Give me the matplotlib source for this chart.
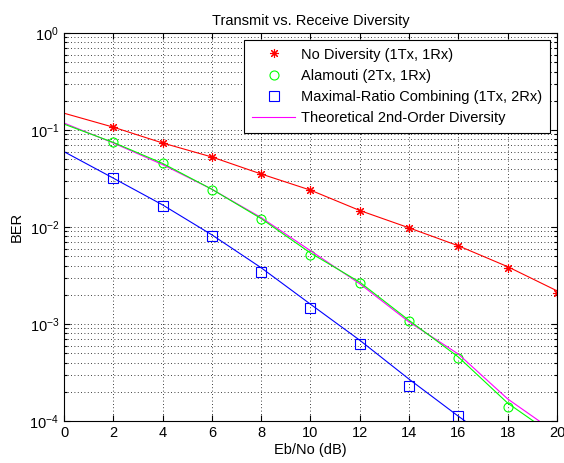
import numpy as np
import matplotlib
matplotlib.use('Agg')
import matplotlib.pyplot as plt
from matplotlib.ticker import LogLocator, FixedLocator, NullFormatter

# data
ebno_mk = [2, 4, 6, 8, 10, 12, 14, 16, 18, 20]
ber_nodiv = [0.107, 0.0735, 0.0527, 0.0352, 0.0240, 0.0147, 0.0098, 0.0064, 0.0038, 0.0021]

ebno_ala = [2, 4, 6, 8, 10, 12, 14, 16, 18]
ber_ala = [0.0752, 0.0457, 0.0240, 0.0121, 0.00514, 0.00265, 0.00107, 0.00045, 0.000139]

ebno_mrc = [2, 4, 6, 8, 10, 12, 14, 16]
ber_mrc = [0.0320, 0.0166, 0.0080, 0.0034, 0.00146, 0.00062, 0.00023, 0.000113]

# fitted curves
fit_x = [0, 2, 4, 6, 8, 10, 12, 14, 16, 18, 20]
fit_nodiv = [0.149, 0.107, 0.0735, 0.0527, 0.0352, 0.0240, 0.0148, 0.0098, 0.0064, 0.0039, 0.0022]

fit_ala_x = [0, 2, 4, 6, 8, 10, 12, 14, 16, 18, 19.04]
fit_ala = [0.115, 0.0745, 0.0453, 0.0245, 0.0122, 0.0054, 0.0027, 0.00109, 0.000457, 0.000153, 0.0001]

fit_mrc_x = [0, 2, 4, 6, 8, 10, 12, 14, 16, 16.27]
fit_mrc = [0.0598, 0.0319, 0.0169, 0.0083, 0.0038, 0.0016, 0.00068, 0.00027, 0.000112, 0.0001]

theo_x = [0, 2, 4, 6, 8, 10, 12, 14, 16, 18, 19.28]
theo = [0.118, 0.0735, 0.0440, 0.0245, 0.0125, 0.0057, 0.0026, 0.00105, 0.00049, 0.000169, 0.0001]

plt.rcParams.update({'font.family': 'Liberation Sans', 'font.size': 10,
                     'mathtext.default': 'regular'})

fig = plt.figure(figsize=(5.64, 4.63), dpi=100)
ax = fig.add_axes([0.1135, 0.0907, 0.874, 0.838])

# markers (legend entries)
ax.semilogy(ebno_mk, ber_nodiv, ls='none', marker=(8, 2, 0), color=(1, 0, 0), ms=6.5, mew=0.8,
            label='No Diversity (1Tx, 1Rx)')
ax.semilogy(ebno_ala, ber_ala, 'o', color=(0, 1, 0), mfc='none', ms=6.5, mew=0.8,
            label='Alamouti (2Tx, 1Rx)')
ax.semilogy(ebno_mrc, ber_mrc, 's', color=(0, 0, 1), mfc='none', ms=6.8, mew=0.8,
            label='Maximal-Ratio Combining (1Tx, 2Rx)')
ax.semilogy(theo_x, theo, '-', color=(1, 0, 1), lw=0.8, label='Theoretical 2nd-Order Diversity')

# fitted lines
ax.semilogy(fit_x, fit_nodiv, '-', color=(1, 0, 0), lw=0.8)
ax.semilogy(fit_ala_x, fit_ala, '-', color=(0, 1, 0), lw=0.8)
ax.semilogy(fit_mrc_x, fit_mrc, '-', color=(0, 0, 1), lw=0.8)

ax.set_xlim(0, 20)
ax.set_ylim(1e-4, 1)
ax.xaxis.set_major_locator(FixedLocator(np.arange(0, 21, 2)))
ax.yaxis.set_minor_locator(LogLocator(base=10, subs=np.arange(2, 10), numticks=10))
ax.yaxis.set_minor_formatter(NullFormatter())
ax.set_yticks([1e-4, 1e-3, 1e-2, 1e-1, 1])
ax.set_yticklabels(['$10^{-4}$', '$10^{-3}$', '$10^{-2}$', '$10^{-1}$', '$10^{0}$'],
                   fontsize=10.5)
ax.tick_params(axis='x', labelsize=10.5)

ax.tick_params(which='both', direction='in', top=True, right=True)
ax.tick_params(which='major', length=4, width=0.8)
ax.tick_params(which='minor', length=2.5, width=0.8)

ax.grid(True, which='major', color='k', linestyle=(0, (1, 3)), linewidth=0.6)
ax.grid(True, which='minor', axis='y', color='k', linestyle=(0, (1, 3)), linewidth=0.6)

for sp in ax.spines.values():
    sp.set_linewidth(0.8)

ax.set_title('Transmit vs. Receive Diversity', fontsize=10.5)
ax.set_xlabel('Eb/No (dB)', fontsize=10.5, labelpad=2)
ax.set_ylabel('BER', fontsize=10.5, labelpad=4)

leg = ax.legend(loc='upper right', fancybox=False, edgecolor='k', framealpha=1,
                fontsize=10.5, borderaxespad=0.45, handlelength=3.0,
                handletextpad=0.4, borderpad=0.55, labelspacing=0.5)
leg.get_frame().set_linewidth(0.8)

fig.savefig('out.png', dpi=100)
